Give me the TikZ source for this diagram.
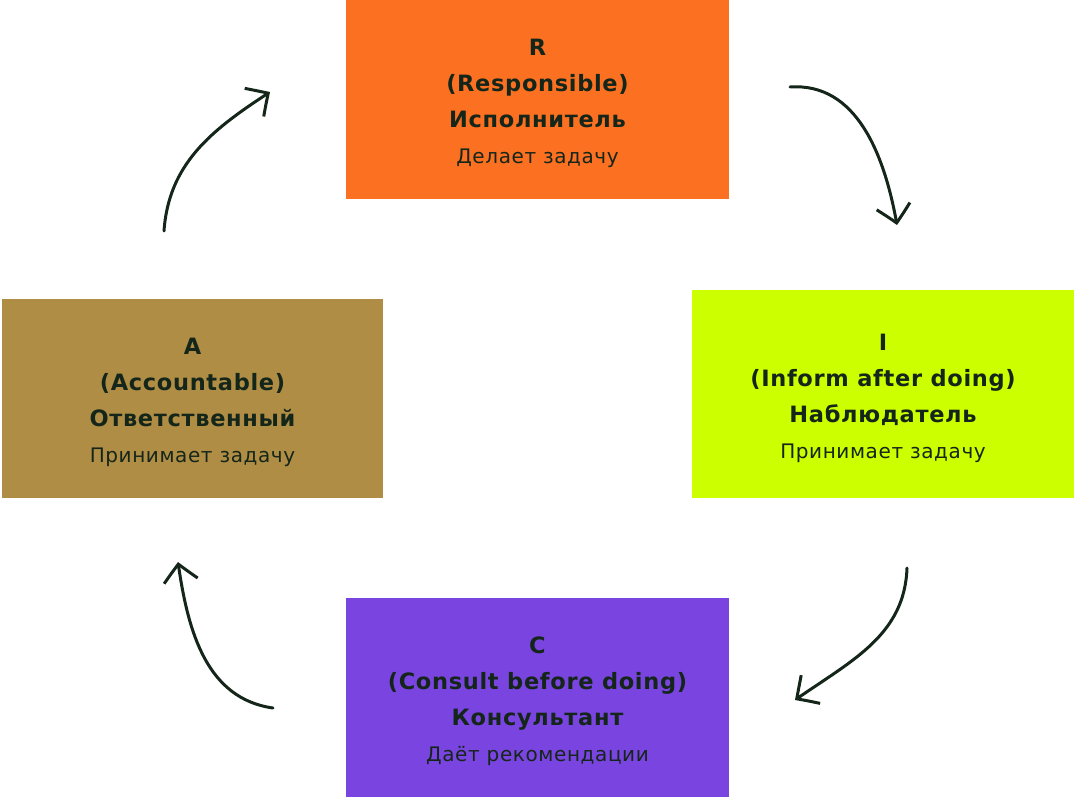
\documentclass[tikz,border=0pt]{standalone}
\usepackage{fontspec}
\setmainfont{DejaVu Sans}[LetterSpace=3]
\usetikzlibrary{arrows.meta,bending}
\definecolor{respcol}{HTML}{FC7022}
\definecolor{infocol}{HTML}{CCFF00}
\definecolor{acccol}{HTML}{B08D45}
\definecolor{conscol}{HTML}{7A44E0}
\definecolor{inkcol}{HTML}{14261A}
\newcommand{\subline}{\mdseries\fontsize{20}{38}\selectfont}
\newcommand{\topgap}{\rule{0pt}{25pt}}

\begin{document}
\begin{tikzpicture}[x=1pt,y=1pt,
        rolebox/.style={minimum width=383pt,minimum height=199pt,inner sep=0pt,
            align=center,text=inkcol,font=\bfseries\fontsize{22.5}{36}\selectfont},
        cyclearrow/.style={draw=inkcol,line width=3pt,line cap=round,
            -{Straight Barb[length=17pt,width=34pt,line width=3pt,bend]}}]
    \useasboundingbox (0,0) rectangle (1076,-797);
    % the four roles
    \node[rolebox,fill=respcol] (resp) at (537.5,-99.5)
        {\topgap R\\(Responsible)\\Исполнитель\\{\subline Делает задачу}};
    \node[rolebox,fill=infocol,minimum width=382pt,minimum height=208pt] (info) at (883,-394)
        {\topgap I\\(Inform after doing)\\Наблюдатель\\{\subline Принимает задачу}};
    \node[rolebox,fill=acccol,minimum width=381pt] (acc) at (192.5,-398.5)
        {\topgap A\\(Accountable)\\Ответственный\\{\subline Принимает задачу}};
    \node[rolebox,fill=conscol] (cons) at (537.5,-697.5)
        {\topgap C\\(Consult before doing)\\Консультант\\{\subline Даёт рекомендации}};
    % arrow ends
    \coordinate (accout) at (164,-231);
    \coordinate (respin) at (270,-92);
    \coordinate (respout) at (790,-87);
    \coordinate (infoin) at (897,-225);
    \coordinate (infoout) at (907,-568);
    \coordinate (consin) at (795,-700);
    \coordinate (consout) at (273,-708);
    \coordinate (accin) at (178,-562);
    \draw[cyclearrow] (accout) to[out=86,in=213] (respin);
    \draw[cyclearrow] (respout) to[out=4,in=100] (infoin);
    \draw[cyclearrow] (infoout) to[out=-92,in=35] (consin);
    \draw[cyclearrow] (consout) to[out=172,in=-82] (accin);
\end{tikzpicture}
\end{document}
